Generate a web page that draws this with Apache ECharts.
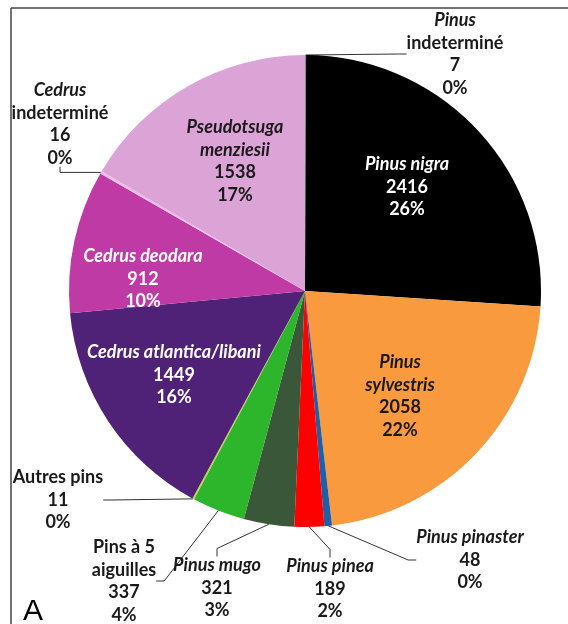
<!DOCTYPE html>
<html>
<head>
<meta charset="utf-8">
<script src="https://cdn.jsdelivr.net/npm/echarts@6/dist/echarts.min.js"></script>
<style>
  html, body { margin: 0; padding: 0; background: #fff; }
  #chart { width: 568px; height: 624px; }
</style>
</head>
<body>
<div id="chart"></div>
<script>
// Données : nombre d'arbres par taxon (sens horaire depuis midi)
const categories = ['Pinus indeterminé', 'Pinus nigra', 'Pinus sylvestris', 'Pinus pinaster', 'Pinus pinea',
  'Pinus mugo', 'Pins à 5 aiguilles', 'Autres pins', 'Cedrus atlantica/libani', 'Cedrus deodara',
  'Cedrus indeterminé', 'Pseudotsuga menziesii'];
const counts = [7, 2416, 2058, 48, 189, 321, 337, 11, 1449, 912, 16, 1538];
const percents = ['0%', '26%', '22%', '0%', '2%', '3%', '4%', '0%', '16%', '10%', '0%', '17%'];

// Lignes du libellé : {i|...} italique, {b|...} droit
const labelNames = [
  '{i|Pinus}\n{b|indeterminé}',
  '{i|Pinus nigra}',
  '{i|Pinus}\n{i|sylvestris}',
  '{i|Pinus pinaster}',
  '{i|Pinus pinea}',
  '{i|Pinus mugo}',
  '{b|Pins à 5}\n{b|aiguilles}',
  '{b|Autres pins}',
  '{i|Cedrus atlantica/libani}',
  '{i|Cedrus deodara}',
  '{i|Cedrus}\n{b|indeterminé}',
  '{i|Pseudotsuga}\n{i|menziesii}'
];

const colors = ['#8a8a8a', '#000000', '#F89A3D', '#1F5FA8', '#FF0000', '#3B573A',
  '#2DB52B', '#C9CC4A', '#4F2277', '#BF3AA4', '#F5BCE8', '#DCA3D6'];
const whiteText = [false, true, false, false, false, false, false, false, true, true, false, false];
const inside = [false, true, true, false, false, false, false, false, true, true, false, true];

// Position (centre) des libellés
const labelPos = [
  [455, 54], [407, 187], [400, 396], [470, 560], [330, 589], [217, 588],
  [124, 581], [58, 500], [174, 375], [143, 279], [60, 124], [235, 161]
];

let chart = echarts.init(document.getElementById('chart'));

function rich(color) {
  const base = { fontFamily: 'Lato', fontWeight: 'bold', fontSize: 18, lineHeight: 22.5, color: color };
  return {
    i: Object.assign({}, base, { fontStyle: 'italic' }),
    b: Object.assign({}, base)
  };
}

let data = categories.map((name, i) => {
  const c = whiteText[i] ? '#ffffff' : '#1a1a1a';
  return {
    name: name,
    value: counts[i],
    itemStyle: { color: colors[i] },
    label: {
      position: inside[i] ? 'inside' : 'outside',
      formatter: labelNames[i] + '\n{b|' + counts[i] + '}\n{b|' + percents[i] + '}',
      align: 'center',
      rich: rich(c)
    },
    labelLine: { show: !inside[i] }
  };
});

let option = {
  animation: false,
  graphic: [
    { type: 'line', shape: { x1: 11, y1: 8, x2: 568, y2: 8 }, style: { stroke: '#444', lineWidth: 1.5 } },
    { type: 'line', shape: { x1: 11, y1: 8, x2: 11, y2: 624 }, style: { stroke: '#444', lineWidth: 1.5 } },
    { type: 'text', left: 23, top: 597, style: { text: 'A', font: '30px "Liberation Sans"', fill: '#000' } }
  ],
  series: [{
    type: 'pie',
    center: [305, 291],
    radius: 236,
    startAngle: 90,
    clockwise: true,
    avoidLabelOverlap: false,
    itemStyle: { borderWidth: 0 },
    labelLine: { lineStyle: { color: '#333', width: 1 }, length2: 8, smooth: false },
    labelLayout: function (params) {
      const p = labelPos[params.dataIndex];
      return { x: p[0], y: p[1], align: 'center', verticalAlign: 'middle' };
    },
    emphasis: { disabled: true },
    data: data
  }]
};

chart.setOption(option);
</script>
</body>
</html>
